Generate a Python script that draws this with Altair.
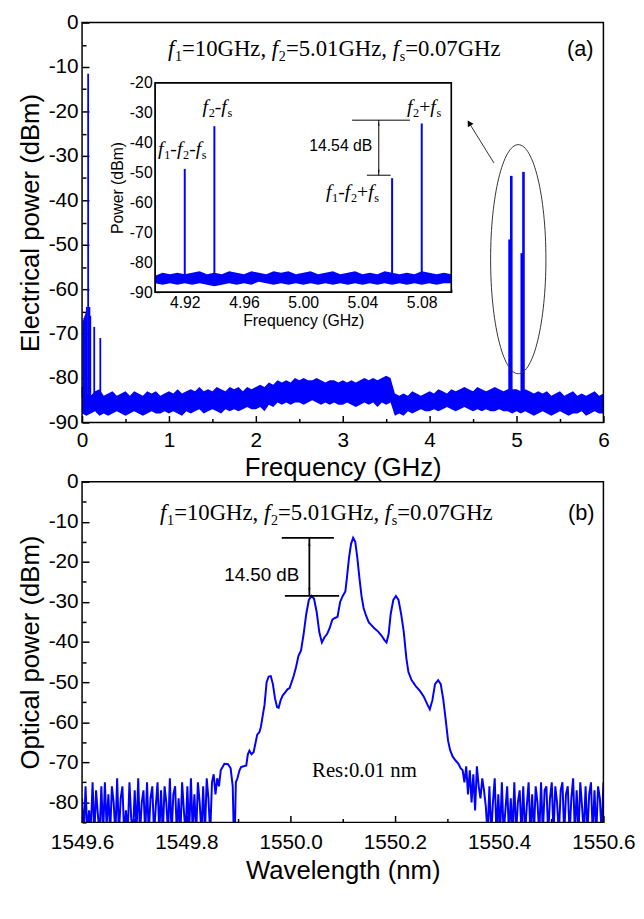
import altair as alt
import numpy as np
import pandas as pd

BLUE = "#0000FF"
SANS = "Liberation Sans"
SERIF = "Liberation Serif"
W = 528          # plot width (both panels)
HA = 405         # panel (a) plot height
GAP = 60         # vertical gap between panel plot areas
HB = 345         # panel (b) plot height
HT = HA + GAP + HB
B0 = HA + GAP    # top of panel (b) inside the common plot area

# ---------------- panel (a): electrical spectrum ----------------
noise_a_step = 0.05
noise_a_upper = [
    -82, -83.5, -84, -83, -82.5, -84, -83.5, -83, -84, -83.5, -83, -84, -83, -83.5, -84, -83, -83.5, -83, -84, -83.5,
    -83, -83.5, -82.5, -83.5, -83, -82.5, -83, -82, -83, -82.5, -83, -82, -82.5, -83, -82, -82.5, -82, -83, -82, -82.5,
    -82, -81.5, -82, -81, -81.5, -80.5, -81, -80.5, -81, -80, -80.5, -80, -80.5, -80.5, -80, -80.5, -81, -80.5, -80.5, -81,
    -80.5, -81, -80.5, -81, -80.5, -80, -80.5, -80, -80.5, -80, -79.5, -80, -83.5, -84, -83.5, -84, -83, -83.5, -84, -83.5,
    -83, -83.5, -82.5, -83, -83.5, -82.5, -83, -82.5, -82, -82.5, -83, -82, -82.5, -83, -82.5, -82, -82.5, -83, -82.5, -82.5,
    -82.5, -83, -82.5, -83, -83.5, -83, -83.5, -83, -84, -83.5, -83, -84, -83.5, -83, -84, -83.5, -84, -83.5, -83, -84, -83.5,
]
noise_a_lower = [
    -88, -88.5, -88, -87.5, -88.5, -88, -88.5, -88, -87.5, -88, -88.5, -88, -87.5, -88, -88.5, -88, -87.5, -88, -88, -87.5,
    -88, -87.5, -88, -88.5, -87.5, -88, -87.5, -87, -88, -87.5, -87, -87.5, -88, -87, -87.5, -87, -87.5, -87, -86.5, -87,
    -87, -86.5, -87.5, -86, -86.5, -85.5, -86, -85.5, -86, -85.5, -85.5, -86, -85.5, -85, -85.5, -86, -85.5, -86, -85.5, -86,
    -86, -85.5, -86, -86.5, -86, -85.5, -86, -85.5, -86.5, -85.5, -86, -85.5, -88.5, -88, -88.5, -87.5, -88, -87.5, -87, -87.5,
    -87.5, -87, -87.5, -87, -86.5, -87, -87.5, -87, -86.5, -87, -87.5, -87, -87.5, -87, -87.5, -87.5, -87, -87.5, -87.5, -88,
    -87.5, -88, -87.5, -88, -88.5, -88, -87.5, -88, -88.5, -88, -87.5, -88, -88.5, -88, -88, -87.5, -88.5, -88, -87.5, -88, -88,
]
spike_a_freq = [0.005, 0.015, 0.025, 0.035, 0.045, 0.055, 0.07, 0.085, 0.095, 0.14, 0.21, 4.92, 4.94, 5.06, 5.08]
spike_a_peak = [-82, -67, -66.5, -66, -65.5, -64, -11.5, -64, -66, -68.5, -71, -48.8, -34.5, -51.9, -33.6]
spike_a_width = [1.8, 1.8, 1.8, 1.8, 1.8, 1.8, 1.8, 1.8, 1.8, 1.8, 1.8, 2.6, 2.6, 2.6, 2.6]
spike_a_base = -84.5

# inset
inset_step = 0.005
inset_upper = [
    -84.5, -83.5, -84, -83.5, -84, -83.5, -83, -84, -83.5, -84, -83, -83.5, -84, -83, -83.5, -84, -83, -83.5, -83, -84,
    -83.5, -83, -84, -83.5, -83, -84, -83.5, -83, -84, -83.5, -84, -83, -83.5, -84, -83.5, -84, -83, -83.5, -84, -83.5, -84,
]
inset_lower = [
    -87, -87.5, -87, -87.5, -87, -87.5, -87, -87.5, -88, -87.5, -87, -87.5, -87, -87.5, -86.5, -87, -87.5, -87, -87.5, -87,
    -87.5, -87, -87.5, -87, -87.5, -87, -87.5, -87, -87.5, -87, -87.5, -87, -87.5, -87, -87.5, -87, -87.5, -87, -87.5, -87, -87,
]
inset_spike_freq = [4.92, 4.94, 5.06, 5.08]
inset_spike_peak = [-48.8, -34.5, -51.9, -33.6]
inset_spike_base = -86.0

# annotation geometry (data units)
ellipse_center = (5.02, -53.25)
arrow_a_x = [4.74, 4.455]
arrow_a_y = [-31.6, -22.6]
inset_hline_upper = (5.033, 5.072, -32.5)
inset_hline_lower = (5.043, 5.059, -50.9)
inset_arrow_x = 5.051

# ---------------- panel (b): optical spectrum ----------------
noise_b_left = [
    -79, -88, -76, -88, -82, -87, -75, -88, -77, -83, -88, -76, -88, -75, -86, -78, -88, -76, -80, -88,
    -74, -88, -79, -76, -88, -82, -88, -75, -84, -88, -77, -88, -74, -88, -80, -77, -88, -75, -88, -79,
    -76, -88, -81, -75, -88, -77, -88, -76, -80, -88, -74, -88, -78, -76, -88, -79, -88, -75, -82, -88,
    -76, -88, -74, -87, -78, -88, -75, -80, -88, -76, -88, -74, -79, -88, -75, -73, -78, -74, -76, -72,
]
noise_b_right = [
    -72, -75, -71, -78, -72, -80, -73, -82, -71, -76, -79, -74, -77, -81, -88, -76, -88, -80, -74, -88,
    -78, -88, -75, -88, -82, -76, -88, -79, -88, -75, -88, -80, -77, -88, -76, -88, -81, -75, -88, -78,
    -88, -76, -80, -88, -75, -88, -77, -76, -88, -79, -75, -88, -76, -80, -88, -77, -75, -88, -78, -76,
    -88, -79, -74, -88, -77, -88, -75, -81, -88, -76, -88, -78, -75, -88, -77, -88, -76, -79, -88, -75,
]
curve_b_wl = [
    1549.873, 1549.880, 1549.885, 1549.889, 1549.891, 1549.893, 1549.895, 1549.898, 1549.902, 1549.905,
    1549.910, 1549.915, 1549.918, 1549.921, 1549.925, 1549.929, 1549.933, 1549.936, 1549.940, 1549.943,
    1549.947, 1549.950, 1549.954, 1549.958, 1549.962, 1549.966, 1549.970, 1549.974, 1549.977, 1549.981,
    1549.985, 1549.990, 1549.994, 1549.998, 1550.002, 1550.006, 1550.010, 1550.015, 1550.020, 1550.025,
    1550.030, 1550.035, 1550.040, 1550.045, 1550.050, 1550.055, 1550.060, 1550.065, 1550.070, 1550.075,
    1550.080, 1550.085, 1550.090, 1550.095, 1550.100, 1550.105, 1550.108, 1550.112, 1550.116, 1550.120,
    1550.124, 1550.128, 1550.132, 1550.136, 1550.140, 1550.145, 1550.150, 1550.155, 1550.160, 1550.168,
    1550.175, 1550.180, 1550.184, 1550.188, 1550.192, 1550.197, 1550.202, 1550.207, 1550.212, 1550.217,
    1550.222, 1550.226, 1550.232, 1550.240, 1550.248, 1550.255, 1550.262, 1550.267, 1550.272, 1550.277,
    1550.283, 1550.288, 1550.293, 1550.298, 1550.302, 1550.306, 1550.311, 1550.316, 1550.322, 1550.326,
]
curve_b_pow = [
    -70.4, -70.5, -71.5, -76, -88, -88, -75, -74, -72, -71.2,
    -71, -70.8, -68, -67.1, -68, -67.5, -65, -63.1, -62.5, -61.2,
    -58, -55.7, -50, -48.6, -48.5, -50.5, -54, -56.2, -56.4, -54.5,
    -53.3, -52.5, -51.8, -51.5, -50, -48.4, -46.5, -43.5, -42.1, -38,
    -33, -29.5, -28.5, -29.2, -32.5, -37.5, -40.1, -38.8, -38, -36.5,
    -34.4, -34, -33.7, -30, -28.5, -27.4, -24, -19, -15.5, -14.0,
    -15, -19, -24, -28.5, -31.5, -33.5, -35.1, -35.8, -36.5, -37.4,
    -38.5, -39.5, -40.1, -38, -33, -29.5, -28.5, -29.5, -33, -37.4,
    -44, -47.5, -49.5, -51, -52.2, -53.5, -55.5, -56.8, -54.5, -50.5,
    -49.5, -50.5, -54.5, -60, -64.6, -67, -68.6, -69.5, -70.4, -71.5,
]
b_hline_upper = (1549.983, 1550.083, -14.0)
b_hline_lower = (1549.989, 1550.093, -28.5)
b_arrow_x = 1550.036

# ---------------- scales (each panel mapped to its own part of the plot area) ----------------
ONE = pd.DataFrame({"a": [0]})
XA_DOM, YA_DOM = [0, 6], [-90, 0]
XI_DOM, YI_DOM = [4.9, 5.1], [-90, -20]
XB_DOM, YB_DOM = [1549.6, 1550.6], [-85, 0]
IX0, IX1, IY0, IY1 = 74, 374, 273, 61

xa = alt.Scale(domain=XA_DOM, range=[0, W], nice=False, zero=False)
ya = alt.Scale(domain=YA_DOM, range=[HA, 0], nice=False, zero=False)
xi = alt.Scale(domain=XI_DOM, range=[IX0, IX1], nice=False, zero=False)
yi = alt.Scale(domain=YI_DOM, range=[IY0, IY1], nice=False, zero=False)
xb = alt.Scale(domain=XB_DOM, range=[0, W], nice=False, zero=False)
yb = alt.Scale(domain=YB_DOM, range=[HT, B0], nice=False, zero=False)

MINUS = "'' + datum.value"
LSIZE = 21
TSIZE = 26


def lab_axis(orient, values, title, fmt=None, expr=None, offset=None, lsize=LSIZE, tsize=TSIZE, pad=4, tpad=5):
    kw = dict(orient=orient, values=values, title=title, ticks=False, domain=False, grid=False,
              labelFlush=False, labelOverlap=False, labelFont=SANS, labelFontSize=lsize, labelColor="black",
              labelPadding=pad, titleFont=SANS, titleFontSize=tsize, titleFontWeight="normal",
              titleColor="black", titlePadding=tpad)
    if fmt:
        kw["format"] = fmt
    if expr:
        kw["labelExpr"] = expr
    if offset is not None:
        kw["offset"] = offset
    return alt.Axis(**kw)


def tick_axis(orient, values, size, offset, width=1.5):
    return alt.Axis(orient=orient, values=values, offset=offset, tickSize=size, tickWidth=width,
                    tickColor="black", labels=False, domain=False, grid=False, title=None)


def ticks_x(values, scale, size, offset, width=1.5):
    return alt.Chart(pd.DataFrame({"v": values})).mark_point(opacity=0).encode(
        x=alt.X("v:Q", scale=scale, axis=tick_axis("top", values, size, offset, width)))


def ticks_y(values, scale, size, offset, width=1.5):
    return alt.Chart(pd.DataFrame({"v": values})).mark_point(opacity=0).encode(
        y=alt.Y("v:Q", scale=scale, axis=tick_axis("right", values, size, offset, width)))


def frame(xdom, ydom, xs, ys, fill=None, width=1.5):
    kw = dict(stroke="black", strokeWidth=width)
    if fill:
        kw["fill"] = fill
    else:
        kw["fillOpacity"] = 0
    return alt.Chart(pd.DataFrame({"x": [xdom[0]], "x2": [xdom[1]], "y": [ydom[0]], "y2": [ydom[1]]})).mark_rect(
        **kw).encode(x=alt.X("x:Q", scale=xs, axis=None), x2="x2:Q", y=alt.Y("y:Q", scale=ys, axis=None), y2="y2:Q")


WID = {"f": 0.333, "s": 0.389, "=": 0.564, "G": 0.722, "H": 0.722, "z": 0.444, ",": 0.25,
       " ": 0.25, ".": 0.25, "-": 0.333, "+": 0.564}


def text_width(t):
    return sum(WID.get(c, 0.5) for c in t)


def rich(segments, x0, y0, size):
    out = []
    x = x0
    for txt, kind in segments:
        if kind == "i":
            fs, style, dy, adv = size, "italic", 0, 0.31 * size
        elif kind == "sub":
            fs, style, dy = size * 0.62, "normal", size * 0.2
            adv = text_width(txt) * fs
        else:
            fs, style, dy = size, "normal", 0
            adv = text_width(txt) * fs
        out.append(alt.Chart(ONE).mark_text(text=txt.strip(), font=SERIF, fontSize=fs, fontStyle=style,
                                            align="left", baseline="alphabetic", color="black").encode(
            x=alt.value(x), y=alt.value(y0 + dy)))
        x += adv
    return out


def plain(txt, x, y, size, align="center", baseline="middle", font=SANS):
    return alt.Chart(ONE).mark_text(text=txt, font=font, fontSize=size, align=align, baseline=baseline,
                                    color="black").encode(x=alt.value(x), y=alt.value(y))


TITLE_SEGS = [("f", "i"), ("1", "sub"), ("=10GHz, ", "n"), ("f", "i"), ("2", "sub"),
              ("=5.01GHz, ", "n"), ("f", "i"), ("s", "sub"), ("=0.07GHz", "n")]

# ---------------- panel (a) ----------------
fa = np.round(np.arange(len(noise_a_upper)) * noise_a_step, 3)
dfa = pd.DataFrame({"f": fa, "up": noise_a_upper, "lo": noise_a_lower})
area_a = alt.Chart(dfa).mark_area(color=BLUE).encode(
    x=alt.X("f:Q", scale=xa, axis=lab_axis("bottom", [0, 1, 2, 3, 4, 5, 6], "Frequency (GHz)", fmt="d",
                                           offset=HA - HT, pad=7, tpad=5)),
    y=alt.Y("up:Q", scale=ya, axis=lab_axis("left", list(range(-90, 1, 10)), "Electrical power (dBm)", expr=MINUS)),
    y2="lo:Q",
)
dspa = pd.DataFrame({"f": spike_a_freq, "p": spike_a_peak, "b": spike_a_base, "w": spike_a_width})
spikes_a = alt.Chart(dspa).mark_rule(color=BLUE).encode(
    x=alt.X("f:Q", scale=xa, axis=None), y=alt.Y("p:Q", scale=ya, axis=None), y2="b:Q",
    strokeWidth=alt.StrokeWidth("w:Q", scale=None))

ell_path = "M -0.2414 0 A 0.2414 1 0 1 0 0.2414 0 A 0.2414 1 0 1 0 -0.2414 0"
ellipse = alt.Chart(pd.DataFrame({"x": [ellipse_center[0]], "y": [ellipse_center[1]]})).mark_point(
    shape=ell_path, size=53824, filled=False, stroke="#333333", strokeWidth=1, opacity=1).encode(
    x=alt.X("x:Q", scale=xa, axis=None), y=alt.Y("y:Q", scale=ya, axis=None))
arrow_line = alt.Chart(pd.DataFrame({"x": arrow_a_x, "y": arrow_a_y})).mark_line(color="#333333", strokeWidth=1).encode(
    x=alt.X("x:Q", scale=xa, axis=None), y=alt.Y("y:Q", scale=ya, axis=None))
arrow_head = alt.Chart(pd.DataFrame({"x": [arrow_a_x[1]], "y": [arrow_a_y[1]]})).mark_point(
    shape="triangle-up", angle=328, size=45, filled=True, color="black", opacity=1).encode(
    x=alt.X("x:Q", scale=xa, axis=None), y=alt.Y("y:Q", scale=ya, axis=None))

# inset
fi = np.round(4.9 + np.arange(len(inset_upper)) * inset_step, 4)
dfi = pd.DataFrame({"f": fi, "up": inset_upper, "lo": inset_lower})
inset_bg = frame(XI_DOM, YI_DOM, xi, yi, fill="white")
inset_area = alt.Chart(dfi).mark_area(color=BLUE).encode(
    x=alt.X("f:Q", scale=xi, axis=lab_axis("bottom", [4.92, 4.96, 5.0, 5.04, 5.08], "Frequency (GHz)", fmt=".2f",
                                           offset=IY0 - HT, lsize=16, tsize=16, pad=3, tpad=2)),
    y=alt.Y("up:Q", scale=yi, axis=lab_axis("left", list(range(-90, -19, 10)), "Power (dBm)", expr=MINUS,
                                            offset=-IX0, lsize=16, tsize=16, pad=3, tpad=4)),
    y2="lo:Q",
)
dspi = pd.DataFrame({"f": inset_spike_freq, "p": inset_spike_peak, "b": inset_spike_base})
inset_spikes = alt.Chart(dspi).mark_rule(color=BLUE, strokeWidth=2).encode(
    x=alt.X("f:Q", scale=xi, axis=None), y=alt.Y("p:Q", scale=yi, axis=None), y2="b:Q")
dhl = pd.DataFrame({"x": [inset_hline_upper[0], inset_hline_lower[0]],
                    "x2": [inset_hline_upper[1], inset_hline_lower[1]],
                    "y": [inset_hline_upper[2], inset_hline_lower[2]]})
inset_hlines = alt.Chart(dhl).mark_rule(color="black", strokeWidth=1).encode(
    x=alt.X("x:Q", scale=xi, axis=None), x2="x2:Q", y=alt.Y("y:Q", scale=yi, axis=None))
inset_vline = alt.Chart(pd.DataFrame({"x": [inset_arrow_x], "y": [inset_hline_upper[2]],
                                      "y2": [inset_hline_lower[2]]})).mark_rule(color="black", strokeWidth=1).encode(
    x=alt.X("x:Q", scale=xi, axis=None), y=alt.Y("y:Q", scale=yi, axis=None), y2="y2:Q")
inset_heads = alt.Chart(pd.DataFrame({"x": [inset_arrow_x, inset_arrow_x],
                                      "y": [inset_hline_upper[2] - 1.3, inset_hline_lower[2] + 1.3],
                                      "a": [0, 180]})).mark_point(
    shape="wedge", size=30, filled=True, color="black", opacity=1).encode(
    x=alt.X("x:Q", scale=xi, axis=None), y=alt.Y("y:Q", scale=yi, axis=None), angle=alt.Angle("a:Q", scale=None))

layers = [
    area_a, spikes_a, ellipse, arrow_line, arrow_head, frame(XA_DOM, YA_DOM, xa, ya),
    inset_bg, inset_area, inset_spikes, inset_hlines, inset_vline, inset_heads, frame(XI_DOM, YI_DOM, xi, yi, width=1.2),
    ticks_x([0, 1, 2, 3, 4, 5, 6], xa, 7, -HA),
    ticks_x([0.5, 1.5, 2.5, 3.5, 4.5, 5.5], xa, 4, -HA),
    ticks_y(list(range(-90, 1, 10)), ya, 7, -W),
    ticks_y(list(range(-85, 0, 10)), ya, 4, -W),
    ticks_x([4.92, 4.96, 5.0, 5.04, 5.08], xi, 5, -IY0, 1),
    ticks_x([4.9, 4.94, 4.98, 5.02, 5.06, 5.1], xi, 3, -IY0, 1),
    ticks_y(list(range(-90, -19, 10)), yi, 5, IX0 - W, 1),
    ticks_y(list(range(-85, -20, 10)), yi, 3, IX0 - W, 1),
]

layers += rich(TITLE_SEGS, 87, 34, 23)
layers.append(plain("(a)", 518, 34, 22, align="right", baseline="alphabetic"))
layers += rich([("f", "i"), ("2", "sub"), ("-", "n"), ("f", "i"), ("s", "sub")], 122, 92, 20)
layers += rich([("f", "i"), ("1", "sub"), ("-", "n"), ("f", "i"), ("2", "sub"), ("-", "n"), ("f", "i"), ("s", "sub")], 77, 134, 20)
layers += rich([("f", "i"), ("2", "sub"), ("+", "n"), ("f", "i"), ("s", "sub")], 329, 92, 20)
layers += rich([("f", "i"), ("1", "sub"), ("-", "n"), ("f", "i"), ("2", "sub"), ("+", "n"), ("f", "i"), ("s", "sub")], 247, 178, 20)
layers.append(plain("14.54 dB", 262, 125, 16))

# ---------------- panel (b) ----------------
wl_left = np.round(np.linspace(1549.600, 1549.866, len(noise_b_left)), 4)
wl_right = np.round(np.linspace(1550.330, 1550.600, len(noise_b_right)), 4)
dfb = pd.DataFrame({
    "wl": np.concatenate([wl_left, curve_b_wl, wl_right]),
    "p": np.concatenate([noise_b_left, curve_b_pow, noise_b_right]),
})
xb_vals = [1549.6, 1549.8, 1550.0, 1550.2, 1550.4, 1550.6]
line_b = alt.Chart(dfb).mark_line(color=BLUE, strokeWidth=2, clip=True).encode(
    x=alt.X("wl:Q", scale=xb, axis=lab_axis("bottom", xb_vals, "Wavelength (nm)", fmt=".1f", pad=9, tpad=6)),
    y=alt.Y("p:Q", scale=yb, axis=lab_axis("left", list(range(-80, 1, 10)), "Optical power (dBm)", expr=MINUS)),
)
dhb = pd.DataFrame({"x": [b_hline_upper[0], b_hline_lower[0]], "x2": [b_hline_upper[1], b_hline_lower[1]],
                    "y": [b_hline_upper[2], b_hline_lower[2]]})
hlines_b = alt.Chart(dhb).mark_rule(color="black", strokeWidth=1.8).encode(
    x=alt.X("x:Q", scale=xb, axis=None), x2="x2:Q", y=alt.Y("y:Q", scale=yb, axis=None))
vline_b = alt.Chart(pd.DataFrame({"x": [b_arrow_x], "y": [b_hline_upper[2]], "y2": [b_hline_lower[2]]})).mark_rule(
    color="black", strokeWidth=1.8).encode(
    x=alt.X("x:Q", scale=xb, axis=None), y=alt.Y("y:Q", scale=yb, axis=None), y2="y2:Q")
heads_b = alt.Chart(pd.DataFrame({"x": [b_arrow_x, b_arrow_x], "y": [b_hline_upper[2] - 1.5, b_hline_lower[2] + 1.5],
                                  "a": [0, 180]})).mark_point(
    shape="wedge", size=60, filled=True, color="black", opacity=1).encode(
    x=alt.X("x:Q", scale=xb, axis=None), y=alt.Y("y:Q", scale=yb, axis=None), angle=alt.Angle("a:Q", scale=None))

layers += [
    line_b, frame(XB_DOM, YB_DOM, xb, yb), hlines_b, vline_b, heads_b,
    ticks_x(xb_vals, xb, 7, -HT),
    ticks_x([1549.7, 1549.9, 1550.1, 1550.3, 1550.5], xb, 4, -HT),
    ticks_y(list(range(-80, 1, 10)), yb, 7, -W),
    ticks_y(list(range(-85, 0, 10)), yb, 4, -W),
]
layers += rich(TITLE_SEGS, 79, B0 + 39, 23)
layers.append(plain("(b)", 519, B0 + 39, 22, align="right", baseline="alphabetic"))
layers.append(plain("14.50 dB", 182, B0 + 95, 19))
layers.append(plain("Res:0.01 nm", 286, B0 + 293, 21, font=SERIF))

chart = alt.layer(*layers).resolve_scale(x="independent", y="independent").properties(
    width=W, height=HT,
    autosize=alt.AutoSizeParams(type="none"),
    padding={"left": 75, "top": 9, "right": 33, "bottom": 85},
).configure_view(strokeWidth=0).configure_axis(grid=False)

chart.save("out.html", embed_options={"renderer": "svg", "actions": False})
